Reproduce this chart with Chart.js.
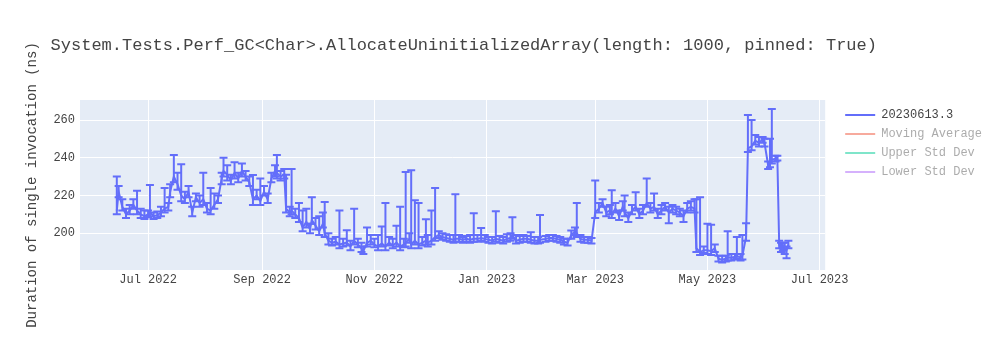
<!DOCTYPE html>
<html>
<head>
<meta charset="utf-8">
<script src="https://cdn.jsdelivr.net/npm/chart.js@4/dist/chart.umd.min.js"></script>
<style>
  body { margin: 0; background: #fff; }
  #wrap { width: 1000px; height: 350px; position: relative; }
</style>
</head>
<body>
<div id="wrap"><canvas id="perfChart"></canvas></div>
<script>
// run dates, one line per month
const runDates = [
  '2022-06-14','2022-06-15','2022-06-17','2022-06-19','2022-06-21','2022-06-23','2022-06-25','2022-06-27','2022-06-29',
  '2022-07-01','2022-07-02','2022-07-04','2022-07-06','2022-07-08','2022-07-10','2022-07-12','2022-07-13','2022-07-15','2022-07-17','2022-07-19','2022-07-21','2022-07-23','2022-07-25','2022-07-27','2022-07-29','2022-07-31',
  '2022-08-02','2022-08-04','2022-08-06','2022-08-08','2022-08-10','2022-08-11','2022-08-13','2022-08-15','2022-08-17','2022-08-19','2022-08-21','2022-08-23','2022-08-25','2022-08-27','2022-08-29','2022-08-31',
  '2022-09-02','2022-09-04','2022-09-06','2022-09-08','2022-09-09','2022-09-11','2022-09-13','2022-09-14','2022-09-16','2022-09-17','2022-09-19','2022-09-21','2022-09-23','2022-09-25','2022-09-27','2022-09-28','2022-09-30',
  '2022-10-02','2022-10-04','2022-10-05','2022-10-07','2022-10-09','2022-10-11','2022-10-13','2022-10-15','2022-10-17','2022-10-19','2022-10-21','2022-10-23','2022-10-25','2022-10-26','2022-10-28','2022-10-30',
  '2022-11-01','2022-11-03','2022-11-05','2022-11-07','2022-11-09','2022-11-11','2022-11-13','2022-11-15','2022-11-17','2022-11-18','2022-11-20','2022-11-21','2022-11-23','2022-11-25','2022-11-27','2022-11-29','2022-11-30',
  '2022-12-02','2022-12-04','2022-12-06','2022-12-08','2022-12-10','2022-12-12','2022-12-14','2022-12-15','2022-12-17','2022-12-19','2022-12-21','2022-12-23','2022-12-25','2022-12-27','2022-12-29','2022-12-31',
  '2023-01-02','2023-01-04','2023-01-06','2023-01-08','2023-01-10','2023-01-12','2023-01-14','2023-01-15','2023-01-17','2023-01-19','2023-01-21','2023-01-23','2023-01-25','2023-01-27','2023-01-29','2023-01-30',
  '2023-02-02','2023-02-04','2023-02-06','2023-02-08','2023-02-10','2023-02-12','2023-02-14','2023-02-16','2023-02-18','2023-02-19','2023-02-21','2023-02-23','2023-02-25','2023-02-27',
  '2023-03-01','2023-03-03','2023-03-05','2023-03-07','2023-03-09','2023-03-10','2023-03-12','2023-03-14','2023-03-16','2023-03-17','2023-03-19','2023-03-21','2023-03-23','2023-03-25','2023-03-27','2023-03-29','2023-03-31',
  '2023-04-02','2023-04-04','2023-04-06','2023-04-08','2023-04-10','2023-04-12','2023-04-14','2023-04-16','2023-04-18','2023-04-20','2023-04-22','2023-04-24','2023-04-25','2023-04-27','2023-04-29',
  '2023-05-01','2023-05-03','2023-05-05','2023-05-07','2023-05-09','2023-05-11','2023-05-12','2023-05-14','2023-05-16','2023-05-17','2023-05-19','2023-05-20','2023-05-22','2023-05-23','2023-05-25','2023-05-27','2023-05-29','2023-05-31',
  '2023-06-01','2023-06-03','2023-06-04','2023-06-05','2023-06-07','2023-06-08','2023-06-09','2023-06-10','2023-06-11','2023-06-12','2023-06-13','2023-06-14'
];

// duration in ns
const durations = [
  212,222,214,210,212,215,212,210,209,
  210,211,209,209.5,211,213,214,222,230,226,220,218,222,211,219,216,218,
  213,212,215,218,229,233,231,228,232,229,233,230,227,218,220,217,
  222,218,229,233,232,230,231,213,211,212,210,208,203,206,202,207,204,
  201,205,200,196,195,195.5,194,194.5,195,193,196,194,192,190.5,195,196,
  194,193,194.5,193,195,193.5,195,193,194,195,197,194,196,194,195,196,195,
  196,198,199,198,197.5,197,196.5,197,197,196.5,197,196.5,197,197,197.5,197,
  196.5,196,197,196.5,196,197,197.5,199,196,196.5,197,197,196.5,196,196,196.5,
  197,197.5,197.5,197,196.5,195.5,195,199,201,200,197,196.5,196.5,196,
  211,213,216,211,212,210,213,209,214,211,208,212,214,210,212,216,213,
  214,210,212,214,211,213,212,211,209,213,214,213,192,190,191,
  191,190.5,192,186.5,186,186.5,187,187,187.5,188,187,188,198,245,246,249,248,249.5,
  248,236,237,239,239.5,240,194,192,193,191,191,194
];

// error bar sizes (above / below the value)
const errPlus = [
  18,3,4,3,3,3,10.5,3,3,
  2,14.5,2,2,3,11,2,4,11.4,6,16.6,4,3,3,2,4,14,
  3,12,6,2,3,7,5,3,5.6,3,4,3,3,12.8,3,12,
  3,3,3,3,9.4,3,3,18,3,22,3,8,9,7,3,12,4,
  8,6,16.5,4,2,2.5,18,2.5,6.6,3,17,3,3,2.5,8,3,
  3,6,9,23,3,3.5,9,21,3,37.4,3,39.4,21.5,22,3,11.4,4,
  16,26,2,2,2,2,2.5,23.6,2,1.5,1.5,2.5,13.6,2,5.2,2,
  1.5,2,14.7,2,2,2.5,2.5,9.5,3,2,2,1.5,4,2,2,13.1,
  1.5,1.5,1.5,1.5,1.5,1.5,2,2.5,2,16,2,1.5,1.5,1.5,
  17,3,2,3,3,12.8,3,3,3,9,3,3,7.7,3,3,13,3,
  7,3,3,2,3,2,2,2,3,3,3,5,26,29,2,
  14,14,2,1.5,2,1.5,14,2,1.5,10,2,11,7.3,17.6,14,3,3,1.5,
  2,2,13,26.8,1.5,1,2,3,2,4,2,2
];
const errMinus = [
  2,3,2,2,2,2,2,2,1.5,
  1.5,2,1.5,1.5,2,2,2,3,3,3,3,2,3,2,2,2,3,
  2,2,2,2,3,3,3,2,3,2,3,2,2,3,2,2,
  2,2,2,3,3,2,2,2,2,2,2,2,2,3,2,2,2,
  2,2,2,2,1.5,1.5,2,1.5,1.5,2,2,1.5,2,1.5,2,2,
  1.5,2,1.5,2,1.5,1.5,2,2,1.5,2,2,2,2,2,1.5,2,2,
  2,2,1.5,1.5,1.5,1.5,1.5,1.5,1.5,1.5,1.5,1.5,1.5,1.5,1.5,1.5,
  1.5,1.5,1.5,1.5,1.5,1.5,1.5,2,1.5,1.5,1.5,1.5,1.5,1.5,1.5,1.5,
  1.5,1.5,1.5,1.5,1.5,1.5,1.5,2,2,2,1.5,1.5,1.5,1.5,
  3,2,2,2,2,2,2,2,2,2,2,2,2,2,2,2,2,
  2,2,2,2,5.7,2,2,2,3,2,2,2,2,1.5,1.5,
  2,2,2,1.5,1.5,1.5,1.5,1.5,1.5,1.5,1.5,2,2,2,2,2,2,1.5,
  2,2,2,2,1.5,1.5,2,2,2,2,4.3,2
];

const seriesNames = ['20230613.3', 'Moving Average', 'Upper Std Dev', 'Lower Std Dev'];
const tickDates = ['2022-07-01','2022-09-01','2022-11-01','2023-01-01','2023-03-01','2023-05-01','2023-07-01'];
const tickLabels = ['Jul 2022','Sep 2022','Nov 2022','Jan 2023','Mar 2023','May 2023','Jul 2023'];
const yTicks = [200, 220, 240, 260];
const xRange = ['2022-05-25', '2023-07-04'];
const yRange = [180.5, 270.6];

const FONT = 'Liberation Mono';
const lineColors = ['#636efa', 'rgba(239,85,59,0.5)', 'rgba(0,204,150,0.5)', 'rgba(171,99,250,0.5)'];
const legendText = ['#444', 'rgba(68,68,68,0.45)', 'rgba(68,68,68,0.45)', 'rgba(68,68,68,0.45)'];

function toDay(s) {
  const p = s.split('-').map(Number);
  return Date.UTC(p[0], p[1] - 1, p[2]) / 86400000;
}

const points = runDates.map((d, i) => ({ x: toDay(d), y: durations[i] }));

// plot background like plotly
const bgPlugin = {
  id: 'plotBg',
  beforeDraw(chart) {
    const a = chart.chartArea, ctx = chart.ctx;
    ctx.save();
    ctx.fillStyle = '#e5ecf6';
    ctx.fillRect(a.left, a.top, a.right - a.left, a.bottom - a.top);
    ctx.restore();
  }
};

// leave a gap between plot and legend
const legendGap = {
  id: 'legendGap',
  afterLayout(chart) {
    const lg = chart.legend;
    lg.left += 13; lg.right += 13;
    lg.top += 2; lg.bottom += 2;
  }
};

// vertical error bars with caps
const errorBars = {
  id: 'errorBars',
  afterDatasetsDraw(chart) {
    const xs = chart.scales.x, ys = chart.scales.y, ctx = chart.ctx;
    const a = chart.chartArea;
    ctx.save();
    ctx.beginPath();
    ctx.rect(a.left, a.top, a.right - a.left, a.bottom - a.top);
    ctx.clip();
    ctx.strokeStyle = '#636efa';
    ctx.lineWidth = 2;
    points.forEach((p, i) => {
      const px = xs.getPixelForValue(p.x);
      const top = ys.getPixelForValue(p.y + errPlus[i]);
      const bot = ys.getPixelForValue(p.y - errMinus[i]);
      ctx.beginPath();
      ctx.moveTo(px, top); ctx.lineTo(px, bot);
      ctx.moveTo(px - 4, top); ctx.lineTo(px + 4, top);
      ctx.moveTo(px - 4, bot); ctx.lineTo(px + 4, bot);
      ctx.stroke();
    });
    ctx.restore();
  }
};

new Chart(document.getElementById('perfChart'), {
  type: 'line',
  data: {
    datasets: seriesNames.map((name, i) => ({
      label: name,
      data: i === 0 ? points : [],
      borderColor: lineColors[i],
      borderWidth: 2,
      pointRadius: 0,
      tension: 0,
      fill: false
    }))
  },
  options: {
    responsive: true,
    maintainAspectRatio: false,
    animation: false,
    layout: { padding: { left: 20, right: 21, top: 0, bottom: 0 } },
    plugins: {
      tooltip: { enabled: false },
      title: {
        display: true,
        text: '   System.Tests.Perf_GC<Char>.AllocateUninitializedArray(length: 1000, pinned: True)',
        align: 'start',
        color: '#444',
        font: { family: FONT, size: 17, weight: 'normal' },
        padding: { top: 35, bottom: 44.6 }
      },
      legend: {
        position: 'right',
        align: 'start',
        fullSize: false,
        labels: {
          usePointStyle: true,
          pointStyleWidth: 30,
          padding: 7,
          font: { family: FONT, size: 12 },
          generateLabels: (chart) => chart.data.datasets.map((ds, i) => ({
            text: ds.label,
            strokeStyle: lineColors[i],
            fillStyle: lineColors[i],
            lineWidth: 2,
            pointStyle: 'line',
            fontColor: legendText[i],
            hidden: false,
            datasetIndex: i
          }))
        }
      }
    },
    scales: {
      x: {
        type: 'linear',
        min: toDay(xRange[0]),
        max: toDay(xRange[1]),
        afterBuildTicks: (axis) => { axis.ticks = tickDates.map(d => ({ value: toDay(d) })); },
        afterFit: (axis) => { axis.height = 80; },
        ticks: {
          autoSkip: false,
          maxRotation: 0,
          padding: 3,
          color: '#444',
          font: { family: FONT, size: 12 },
          callback: (v) => tickLabels[tickDates.findIndex(d => toDay(d) === v)]
        },
        grid: { color: '#ffffff', lineWidth: 1, drawTicks: false },
        border: { display: false }
      },
      y: {
        min: yRange[0],
        max: yRange[1],
        afterBuildTicks: (axis) => { axis.ticks = yTicks.map(v => ({ value: v })); },
        afterFit: (axis) => { axis.width = 60; },
        ticks: {
          padding: 5,
          color: '#444',
          font: { family: FONT, size: 12 }
        },
        grid: { color: '#ffffff', lineWidth: 1, drawTicks: false },
        border: { display: false },
        title: {
          display: true,
          text: 'Duration of single invocation (ns)',
          color: '#444',
          font: { family: FONT, size: 14 },
          padding: { top: 4, bottom: 4 }
        }
      }
    }
  },
  plugins: [bgPlugin, legendGap, errorBars]
});
</script>
</body>
</html>
